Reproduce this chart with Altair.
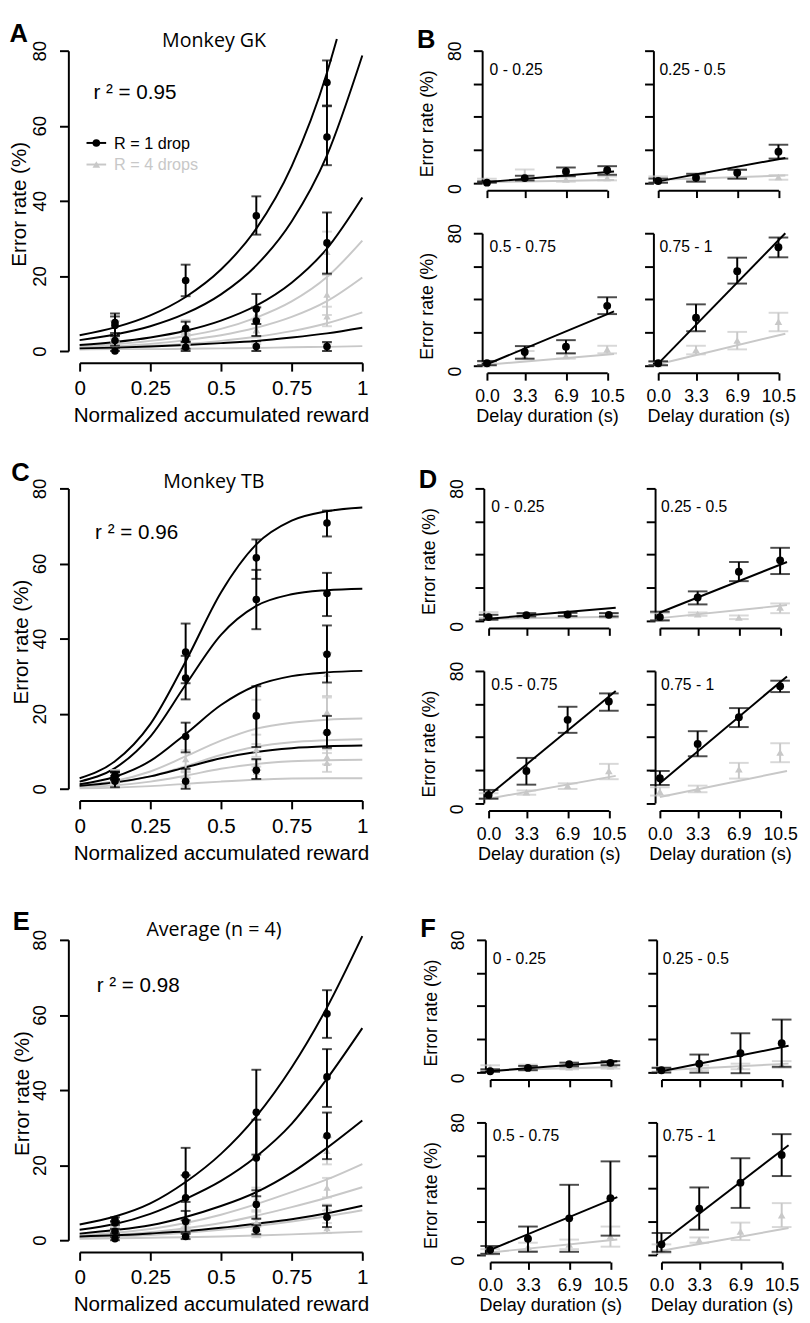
import altair as alt
import pandas as pd

# ---------------- shared values ----------------
DELAYS = [0.0, 3.3, 6.9, 10.5]
BIN_X = [0.125, 0.375, 0.625, 0.875]
BIN_LABELS = ["0 - 0.25", "0.25 - 0.5", "0.5 - 0.75", "0.75 - 1"]
CURVE_X = [0.0, 0.125, 0.25, 0.375, 0.5, 0.625, 0.75, 0.875, 1.0]
GK_TOP_X = [0.0, 0.125, 0.25, 0.375, 0.5, 0.625, 0.75, 0.875, 0.91]
LINE_X = [0.0, 11.1]

# ---------------- Monkey GK ([bin][delay]) ----------------
GK_R1 = [[0.0, 2.8, 6.8, 7.6], [1.0, 3.0, 6.0, 18.8], [1.2, 8.0, 11.2, 36.0], [1.2, 28.8, 57.0, 71.5]]
GK_R1_LO = [[0.0, 1.4, 4.0, 4.8], [0.0, 0.6, 2.4, 14.6], [0.0, 4.0, 7.2, 31.0], [0.0, 20.6, 49.5, 65.4]]
GK_R1_HI = [[0.8, 4.2, 9.2, 10.0], [2.5, 5.4, 7.8, 23.0], [2.6, 11.6, 15.2, 41.2], [2.4, 36.9, 65.2, 77.4]]
GK_R4 = [[1.2, 4.5, 2.0, 2.8], [1.8, 3.0, 5.5, 3.4], [0.6, 5.6, 5.6, 9.6], [0.8, 9.2, 15.0, 26.4]]
GK_R4_LO = [[0.2, 1.4, 0.6, 1.4], [0.0, 1.6, 2.8, 1.8], [0.0, 3.6, 4.0, 7.2], [0.0, 6.6, 9.6, 20.6]]
GK_R4_HI = [[2.4, 8.0, 3.2, 3.8], [3.8, 4.4, 8.2, 4.6], [1.8, 8.6, 7.2, 11.8], [2.0, 11.8, 20.2, 31.8]]
GK_LINE_R1 = [[0.4, 6.8], [0.8, 15.0], [0.6, 32.6], [1.0, 80.0]]
GK_LINE_R4 = [[0.4, 1.6], [1.8, 4.4], [0.3, 6.8], [0.6, 19.1]]
GK_FIT_R1 = [[4.2, 6.3, 9.5, 14.4, 21.7, 32.6, 49.2, 74.1, 83.1],
             [2.9, 4.4, 6.6, 10.0, 15.1, 22.8, 34.5, 52.1, 78.7],
             [1.6, 2.4, 3.6, 5.4, 8.1, 12.1, 18.2, 27.3, 40.9],
             [0.7, 0.9, 1.2, 1.6, 2.1, 2.7, 3.6, 4.7, 6.2]]
GK_FIT_R4 = [[1.2, 1.8, 2.7, 4.0, 5.9, 8.9, 13.2, 19.7, 29.4],
             [0.9, 1.3, 1.9, 2.9, 4.2, 6.2, 9.1, 13.3, 19.6],
             [0.7, 1.0, 1.4, 1.9, 2.7, 3.8, 5.3, 7.4, 10.3],
             [0.4, 0.5, 0.5, 0.6, 0.7, 0.8, 1.0, 1.1, 1.3]]

# ---------------- Monkey TB ----------------
TB_R1 = [[2.0, 3.2, 3.6, 3.4], [2.0, 13.9, 29.5, 36.4], [4.9, 19.4, 50.4, 61.5], [15.0, 35.8, 52.0, 70.8]]
TB_R1_LO = [[0.4, 2.4, 2.6, 2.4], [0.0, 9.7, 23.8, 28.1], [2.6, 11.1, 42.5, 55.9], [10.9, 28.3, 46.0, 67.2]]
TB_R1_HI = [[3.4, 4.4, 4.6, 4.4], [5.3, 17.6, 35.4, 44.0], [7.9, 27.3, 58.3, 66.4], [19.4, 43.5, 57.5, 74.1]]
TB_R4 = [[3.5, 3.0, 4.0, 2.8], [1.4, 3.8, 1.8, 7.9], [4.5, 6.5, 10.5, 19.4], [6.9, 8.5, 20.4, 30.6]]
TB_R4_LO = [[1.5, 2.0, 2.4, 1.6], [0.0, 2.8, 0.8, 4.4], [2.6, 5.0, 8.5, 14.4], [4.5, 6.5, 14.8, 24.7]]
TB_R4_HI = [[5.0, 4.2, 5.0, 4.4], [4.4, 4.8, 3.0, 10.3], [5.9, 7.6, 11.9, 23.7], [9.5, 10.5, 24.3, 36.2]]
TB_LINE_R1 = [[1.0, 7.7], [4.8, 35.4], [4.5, 67.8], [12.0, 76.7]]
TB_LINE_R4 = [[1.0, 2.2], [1.4, 9.3], [2.6, 16.4], [3.6, 19.4]]
TB_FIT_R1 = [[2.8, 7.3, 17.2, 33.9, 52.3, 65.1, 71.4, 73.9, 74.9],
             [1.9, 5.5, 13.9, 27.7, 41.0, 48.7, 51.8, 52.9, 53.3],
             [1.2, 3.2, 7.4, 14.6, 22.3, 27.5, 30.0, 31.0, 31.4],
             [0.8, 1.7, 3.3, 5.7, 8.1, 9.8, 10.8, 11.3, 11.5]]
TB_FIT_R4 = [[0.9, 2.1, 4.6, 8.6, 12.8, 16.0, 17.6, 18.4, 18.7],
             [0.6, 1.5, 3.3, 6.0, 9.0, 11.2, 12.4, 12.9, 13.2],
             [0.4, 0.9, 1.9, 3.5, 5.3, 6.6, 7.3, 7.6, 7.7],
             [0.1, 0.3, 0.7, 1.3, 1.9, 2.4, 2.7, 2.8, 2.8]]

# ---------------- Average (n = 4) ----------------
AV_R1 = [[0.4, 2.4, 4.6, 5.5], [1.0, 5.0, 11.3, 17.4], [2.8, 9.5, 21.9, 34.1], [6.1, 27.8, 43.5, 60.3]]
AV_R1_LO = [[0.0, 1.0, 3.4, 4.0], [-0.4, -0.5, -0.8, 3.1], [0.4, 1.6, 1.6, 11.4], [1.6, 15.0, 28.2, 47.5]]
AV_R1_HI = [[1.6, 3.6, 5.6, 6.5], [2.4, 10.5, 23.4, 31.7], [5.1, 16.9, 42.2, 56.4], [13.0, 40.6, 58.3, 72.9]]
AV_R4 = [[2.6, 3.0, 2.8, 3.4], [1.6, 2.4, 3.4, 4.4], [1.6, 4.7, 6.1, 11.0], [3.2, 8.7, 14.0, 23.8]]
AV_R4_LO = [[1.0, 1.6, 1.6, 2.0], [0.2, 1.0, 1.6, 2.4], [0.0, 2.2, 3.2, 4.7], [0.8, 7.1, 8.7, 16.6]]
AV_R4_HI = [[4.0, 4.4, 4.0, 4.6], [3.0, 4.0, 5.0, 6.5], [3.2, 7.1, 9.0, 16.9], [6.1, 10.3, 19.3, 31.1]]
AVL_R1_LO = [[0.0, 1.8, 4.1, 4.9], [0.3, 2.2, 5.3, 10.2], [1.6, 5.7, 11.7, 22.8], [3.5, 21.6, 35.5, 53.9]]
AVL_R1_HI = [[0.8, 3.0, 5.1, 6.1], [1.7, 7.8, 17.3, 24.6], [4.0, 13.3, 32.1, 45.4], [9.2, 34.0, 50.9, 66.6]]
AVL_R4_LO = [[1.9, 2.3, 2.2, 2.7], [0.9, 1.7, 2.5, 3.4], [0.8, 3.5, 4.6, 8.0], [1.9, 7.9, 11.4, 20.2]]
AVL_R4_HI = [[3.3, 3.7, 3.4, 4.1], [2.3, 3.1, 4.3, 5.4], [2.4, 5.9, 7.6, 14.0], [4.6, 9.5, 16.6, 27.4]]
AV_LINE_R1 = [[0.4, 6.5], [0.4, 15.8], [2.8, 34.7], [7.1, 66.2]]
AV_LINE_R4 = [[1.0, 3.0], [1.0, 5.0], [1.2, 9.1], [2.2, 16.0]]
AV_FIT_R1 = [[4.2, 6.3, 9.8, 15.5, 23.0, 33.0, 46.0, 62.0, 81.0],
             [2.8, 4.3, 7.0, 11.0, 15.8, 22.3, 31.0, 43.0, 56.5],
             [1.75, 2.7, 4.0, 6.2, 9.1, 12.8, 18.0, 24.6, 31.9],
             [1.0, 1.3, 1.8, 2.4, 3.3, 4.4, 5.6, 7.2, 9.2]]
AV_FIT_R4 = [[1.3, 2.0, 3.0, 4.6, 6.8, 9.6, 12.8, 16.2, 20.3],
             [0.9, 1.4, 2.1, 3.2, 4.6, 6.5, 8.8, 11.3, 14.1],
             [0.7, 1.0, 1.4, 2.0, 2.8, 3.8, 5.0, 6.4, 8.0],
             [0.4, 0.5, 0.65, 0.8, 1.0, 1.25, 1.55, 1.9, 2.3]]

TITLES = ["Monkey GK", "Monkey TB", "Average (n = 4)"]
R2_TEXT = ["r \u00b2 = 0.95", "r \u00b2 = 0.96", "r \u00b2 = 0.98"]
LETTERS = [("A", "B"), ("C", "D"), ("E", "F")]
LEGEND_LABELS = ["R = 1 drop", "R = 4 drops"]

# ---------------- styling / layout ----------------
BLACK = "#000000"
GRAY = "#c8c8c8"
FONT = "Liberation Sans"
ONE = pd.DataFrame({"k": [0]})
BIG_W, BIG_H = 288, 306
SM_W, SM_H = 122.5, 134.5

LEFT_X = [80.0, 78.3, 76.7]
BIG_TOP = [38.3, 481.7, 939.3]
ROW_TOP = [32.3, 474.3, 932.0]
SM_X = [493.3, 493.3 + SM_W + 50]
LETTER_Y = [29.5, 474, 929]
TITLE_POS = [(217, 35), (215, 481), (213.5, 935)]
R2_Y = [88, 533, 992]
YTITLE_CX = 19.0

# invisible frame corners (relative to each plot area) that fix the layout
BIG_FRAME_TOP = [ROW_TOP[i] - 24.3 - BIG_TOP[i] for i in range(3)]
BIG_FRAME_BOTTOM = [ROW_TOP[1] - 24.3 - BIG_TOP[0], ROW_TOP[2] - 24.3 - BIG_TOP[1], 384]
BIG_FRAME_RIGHT = 305
SM_FRAME_X = [(-78.3, 142), (-16, 142)]
SM_FRAME_Y = [(-24.3, 154.5), (-14, 196.5)]
SM_HSPACING = (SM_X[1] - 16) - (SM_X[0] + 142)
SM_VSPACING = (SM_H + 50 - 14) - 154.5


def bin_df(means, los, his):
    rows = []
    for b in range(4):
        for d in range(4):
            rows.append({"x": BIN_X[b], "y": means[b][d], "lo": los[b][d], "hi": his[b][d]})
    return pd.DataFrame(rows)


def delay_df(means, los, his, b):
    return pd.DataFrame({"x": DELAYS, "y": means[b], "lo": los[b], "hi": his[b]})


def curve_df(curves, xlists):
    rows = []
    for i, (ys, xs) in enumerate(zip(curves, xlists)):
        for x, y in zip(xs, ys):
            rows.append({"cid": i, "x": x, "y": y})
    return pd.DataFrame(rows)


def txt(text, px, py, org, size, **kw):
    font = kw.pop("font", FONT)
    return alt.Chart(ONE).mark_text(text=text, fontSize=size, font=font, **kw).encode(
        x=alt.value(px - org[0]), y=alt.value(py - org[1]))


def frame(x1, y1, x2, y2):
    out = []
    for fx, fy in [(x1, y1), (x2, y2)]:
        out.append(alt.Chart(ONE).mark_point(shape="square", filled=True, size=1, opacity=0)
                   .encode(x=alt.value(fx), y=alt.value(fy)))
    return out


def err_layers(df, color, cap, X, Y, shape, size):
    bars = alt.Chart(df).mark_rule(color=color, strokeWidth=2).encode(x=X("x"), y=Y("lo"), y2="hi")
    caps = alt.Chart(df).transform_fold(["lo", "hi"], as_=["end", "v"]).mark_tick(
        color=color, orient="horizontal", size=cap, thickness=2).encode(x=X("x"), y=Y("v"))
    pts = alt.Chart(df).mark_point(shape=shape, filled=True, color=color, size=size, opacity=1).encode(
        x=X("x"), y=Y("y"))
    return [bars, caps, pts]


AX = dict(grid=False, domainColor=BLACK, domainWidth=2, tickColor=BLACK, tickWidth=2,
          labelFont=FONT, labelColor=BLACK, labelFlush=False, labelOverlap=False, labelBound=False,
          titleFont=FONT, titleColor=BLACK, titleFontWeight="normal", titleLimit=1000, labelLimit=1000)


def big_panel(i, r1, r1lo, r1hi, r4, r4lo, r4hi, fit1, fit1x, fit4, legend):
    org = (LEFT_X[i], BIG_TOP[i])
    xs = alt.Scale(domain=[0, 1], nice=False, zero=False)
    ys = alt.Scale(domain=[0, 80], nice=False, zero=False)
    xaxis = alt.Axis(values=[0, 0.25, 0.5, 0.75, 1], labelExpr="datum.value + ''",
                     title="Normalized accumulated reward", offset=12, tickSize=8.5,
                     labelFontSize=21, labelPadding=6.8, titleFontSize=21, titleY=60,
                     titleX=BIG_W / 2, titleAlign="center", titleBaseline="alphabetic", **AX)
    yaxis = alt.Axis(values=[0, 20, 40, 60, 80], title="Error rate (%)", offset=11.5, tickSize=9,
                     labelAngle=270, labelAlign="center", labelBaseline="bottom", labelPadding=10.5,
                     labelFontSize=19, titleFontSize=21, titleAngle=270,
                     titleX=YTITLE_CX - (LEFT_X[i] - 11.5), titleY=156,
                     titleAlign="center", titleBaseline="middle", **AX)

    def X(f):
        return alt.X(f, type="quantitative", scale=xs, axis=xaxis)

    def Y(f):
        return alt.Y(f, type="quantitative", scale=ys, axis=yaxis)

    layers = [
        alt.Chart(curve_df(fit4, [CURVE_X] * 4)).mark_line(color=GRAY, strokeWidth=2, interpolate="monotone")
        .encode(x=X("x"), y=Y("y"), detail="cid:N"),
        alt.Chart(curve_df(fit1, fit1x)).mark_line(color=BLACK, strokeWidth=2, interpolate="monotone")
        .encode(x=X("x"), y=Y("y"), detail="cid:N"),
    ]
    layers += err_layers(bin_df(r4, r4lo, r4hi), GRAY, 10, X, Y, "triangle-up", 55)
    layers += err_layers(bin_df(r1, r1lo, r1hi), BLACK, 10, X, Y, "circle", 60)

    layers.append(txt(LETTERS[i][0], 8.5, LETTER_Y[i], org, 26, fontWeight="bold", align="left",
                      baseline="alphabetic"))
    layers.append(txt(TITLES[i], TITLE_POS[i][0], TITLE_POS[i][1], org, 20, font="Open Sans",
                      align="center", baseline="alphabetic"))
    layers.append(txt(R2_TEXT[i], 94, R2_Y[i], org, 21, align="left", baseline="alphabetic"))
    if legend:
        for k, (col, shape, yy) in enumerate([(BLACK, "circle", 132.3), (GRAY, "triangle-up", 154.3)]):
            layers.append(alt.Chart(ONE).mark_rule(color=col, strokeWidth=2).encode(
                x=alt.value(87 - org[0]), x2=alt.value(107 - org[0]), y=alt.value(yy - org[1])))
            layers.append(alt.Chart(ONE).mark_point(shape=shape, filled=True, color=col, size=60, opacity=1)
                          .encode(x=alt.value(97 - org[0]), y=alt.value(yy - org[1])))
            layers.append(txt(LEGEND_LABELS[k], 115, yy + 1, org, 16.5, color=col, align="left",
                              baseline="middle"))
    layers += frame(8 - LEFT_X[i], BIG_FRAME_TOP[i], BIG_FRAME_RIGHT, BIG_FRAME_BOTTOM[i])
    return alt.layer(*layers).properties(width=BIG_W, height=BIG_H)


def small_panel(i, b, r1, r1lo, r1hi, r4, r4lo, r4hi, l1, l4):
    col, row = b % 2, b // 2
    org = (SM_X[col], ROW_TOP[i] + row * (SM_H + 50))
    show_x, show_y = row == 1, col == 0
    xs = alt.Scale(domain=[0, 10.5], nice=False, zero=False)
    ys = alt.Scale(domain=[0, 80], nice=False, zero=False)
    xkw = dict(values=DELAYS, labelExpr="format(datum.value, '.1f')", labels=show_x, offset=7.7,
               tickSize=7.5, labelFontSize=18, labelPadding=7.7, **AX)
    if show_x:
        xkw.update(title="Delay duration (s)", titleFontSize=18.4, titleY=49.5, titleX=SM_W / 2,
                   titleAlign="center", titleBaseline="alphabetic")
    else:
        xkw.update(title=None)
    ykw = dict(values=[0, 20, 40, 60, 80],
               labelExpr="datum.value == 0 || datum.value == 80 ? datum.label : ''",
               labels=show_y, offset=4.9, tickSize=9, labelAngle=270, labelAlign="center",
               labelBaseline="bottom", labelPadding=9, labelFontSize=18,
               labelOffset={"condition": {"test": "datum.value == 0", "value": 6}, "value": 0}, **AX)
    if show_y:
        ykw.update(title="Error rate (%)", titleFontSize=18, titleAngle=270, titleX=-55.2, titleY=74,
                   titleAlign="center", titleBaseline="middle")
    else:
        ykw.update(title=None)
    xaxis = alt.Axis(**xkw)
    yaxis = alt.Axis(**ykw)

    def X(f):
        return alt.X(f, type="quantitative", scale=xs, axis=xaxis)

    def Y(f):
        return alt.Y(f, type="quantitative", scale=ys, axis=yaxis)

    layers = [alt.Chart(pd.DataFrame({"x": LINE_X, "y": l4[b]})).mark_line(color=GRAY, strokeWidth=2)
              .encode(x=X("x"), y=Y("y"))]
    layers += err_layers(delay_df(r4, r4lo, r4hi, b), GRAY, 20, X, Y, "triangle-up", 60)
    layers.append(alt.Chart(pd.DataFrame({"x": LINE_X, "y": l1[b]})).mark_line(color=BLACK, strokeWidth=2)
                  .encode(x=X("x"), y=Y("y")))
    layers += err_layers(delay_df(r1, r1lo, r1hi, b), BLACK, 20, X, Y, "circle", 64)
    lx = 2.7 if col == 0 else 1.2
    lyy = 19.5 if row == 0 else 14.3
    layers.append(alt.Chart(ONE).mark_text(text=BIN_LABELS[b], fontSize=16, font=FONT, align="left",
                                           baseline="middle").encode(x=alt.value(lx), y=alt.value(lyy)))
    if b == 0:
        layers.append(txt(LETTERS[i][1], 422, LETTER_Y[i], org, 26, fontWeight="bold",
                          align="left", baseline="alphabetic"))
    layers += frame(SM_FRAME_X[col][0], SM_FRAME_Y[row][0], SM_FRAME_X[col][1], SM_FRAME_Y[row][1])
    return alt.layer(*layers).properties(width=SM_W, height=SM_H)


SETS = [
    (GK_R1, GK_R1_LO, GK_R1_HI, GK_R4, GK_R4_LO, GK_R4_HI, GK_R1_LO, GK_R1_HI, GK_R4_LO, GK_R4_HI,
     GK_LINE_R1, GK_LINE_R4, GK_FIT_R1, [GK_TOP_X, CURVE_X, CURVE_X, CURVE_X], GK_FIT_R4),
    (TB_R1, TB_R1_LO, TB_R1_HI, TB_R4, TB_R4_LO, TB_R4_HI, TB_R1_LO, TB_R1_HI, TB_R4_LO, TB_R4_HI,
     TB_LINE_R1, TB_LINE_R4, TB_FIT_R1, [CURVE_X] * 4, TB_FIT_R4),
    (AV_R1, AV_R1_LO, AV_R1_HI, AV_R4, AV_R4_LO, AV_R4_HI, AVL_R1_LO, AVL_R1_HI, AVL_R4_LO, AVL_R4_HI,
     AV_LINE_R1, AV_LINE_R4, AV_FIT_R1, [CURVE_X] * 4, AV_FIT_R4),
]

rows = []
for i, s in enumerate(SETS):
    (r1, r1lo, r1hi, r4, r4lo, r4hi, b1lo, b1hi, b4lo, b4hi, l1, l4, f1, f1x, f4) = s
    big = big_panel(i, r1, b1lo, b1hi, r4, b4lo, b4hi, f1, f1x, f4, legend=(i == 0))
    smalls = [small_panel(i, b, r1, r1lo, r1hi, r4, r4lo, r4hi, l1, l4) for b in range(4)]
    grid = alt.vconcat(alt.hconcat(smalls[0], smalls[1], spacing=SM_HSPACING),
                       alt.hconcat(smalls[2], smalls[3], spacing=SM_HSPACING),
                       spacing=SM_VSPACING)
    row_spacing = (SM_X[0] - 78.3) - (LEFT_X[i] + BIG_FRAME_RIGHT)
    rows.append(alt.hconcat(big, grid, spacing=row_spacing))

chart = alt.vconcat(*rows, spacing=0).properties(padding=0).configure_view(stroke=None)

chart.save("out.html", embed_options={"renderer": "svg", "actions": False})
